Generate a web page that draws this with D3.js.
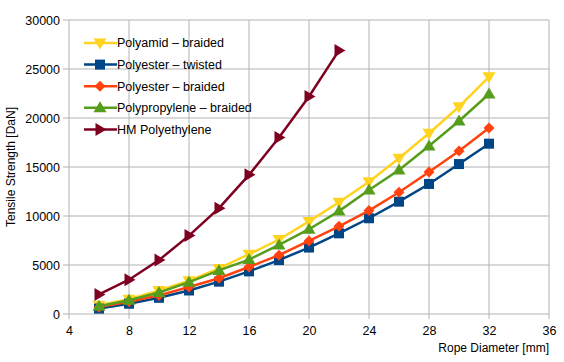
<!DOCTYPE html>
<html>
<head>
<meta charset="utf-8">
<script src="https://cdn.jsdelivr.net/npm/d3@7"></script>
<style>
  body { margin: 0; background: #fff; }
  svg text { font-family: "Liberation Sans", Arial, sans-serif; font-size: 12px; fill: #000; }
</style>
</head>
<body>
<div id="chart"></div>
<script>
// rope diameters [mm]
const diameters = [6, 8, 10, 12, 14, 16, 18, 20, 22, 24, 26, 28, 30, 32]
const hmDiameters = [6, 8, 10, 12, 14, 16, 18, 20, 22]

// tensile strength [DaN]
const polyamidBraided = [900, 1500, 2400, 3400, 4650, 6100, 7600, 9450, 11400, 13500, 15900, 18450, 21150, 24200]
const polyesterTwisted = [550, 1050, 1650, 2400, 3300, 4350, 5500, 6780, 8230, 9770, 11460, 13270, 15300, 17380]
const polyesterBraided = [700, 1250, 1900, 2750, 3650, 4800, 6000, 7450, 8950, 10550, 12420, 14490, 16630, 18980]
const polypropyleneBraided = [800, 1400, 2200, 3250, 4450, 5550, 7050, 8650, 10500, 12650, 14700, 17150, 19700, 22450]
const hmPolyethylene = [2000, 3500, 5500, 8000, 10800, 14200, 18000, 22200, 26900]

const xTicks = [4, 8, 12, 16, 20, 24, 28, 32, 36]
const yTicks = [0, 5000, 10000, 15000, 20000, 25000, 30000]

const series = [
  {name: "Polyamid \u2013 braided", xs: diameters, ys: polyamidBraided, color: "#ffd320", symbol: "down"},
  {name: "Polyester \u2013 twisted", xs: diameters, ys: polyesterTwisted, color: "#004586", symbol: "square"},
  {name: "Polyester \u2013 braided", xs: diameters, ys: polyesterBraided, color: "#ff420e", symbol: "diamond"},
  {name: "Polypropylene \u2013 braided", xs: diameters, ys: polypropyleneBraided, color: "#579d1c", symbol: "up"},
  {name: "HM Polyethylene", xs: hmDiameters, ys: hmPolyethylene, color: "#7e0021", symbol: "right"}
]

const w = 564, h = 362
const margin = {top: 20, right: 15, bottom: 48, left: 69}
const iw = w - margin.left - margin.right
const ih = h - margin.top - margin.bottom

const svg = d3.select("#chart").append("svg")
  .attr("width", w)
  .attr("height", h)

const g = svg.append("g").attr("transform", "translate(" + margin.left + "," + margin.top + ")")

const xScale = d3.scaleLinear().domain([4, 36]).range([0, iw])
const yScale = d3.scaleLinear().domain([0, 30000]).range([ih, 0])

// grid
g.append("g").selectAll("line").data(xTicks).enter().append("line")
  .attr("x1", d => xScale(d)).attr("x2", d => xScale(d))
  .attr("y1", 0).attr("y2", ih + 5)
  .attr("stroke", "#b3b3b3")
g.append("g").selectAll("line").data(yTicks).enter().append("line")
  .attr("x1", -6).attr("x2", iw)
  .attr("y1", d => yScale(d)).attr("y2", d => yScale(d))
  .attr("stroke", "#b3b3b3")

// axes (labels only, grid draws the ticks)
const xAxis = d3.axisBottom(xScale).tickValues(xTicks).tickSize(0).tickPadding(12).tickFormat(d3.format("d"))
const yAxis = d3.axisLeft(yScale).tickValues(yTicks).tickSize(0).tickPadding(9).tickFormat(d3.format("d"))
g.append("g").attr("transform", "translate(0," + ih + ")").call(xAxis)
  .call(a => a.select(".domain").remove())
g.append("g").call(yAxis)
  .call(a => a.select(".domain").remove())
g.selectAll(".tick text").style("font-size", "12.5px").style("font-family", "'Liberation Sans', Arial, sans-serif")

// axis titles
svg.append("text")
  .attr("text-anchor", "end")
  .attr("x", margin.left + iw)
  .attr("y", 352)
  .text("Rope Diameter [mm]")
svg.append("text")
  .attr("text-anchor", "middle")
  .attr("transform", "translate(15," + (margin.top + ih / 2) + ") rotate(-90)")
  .text("Tensile Strength [DaN]")

// marker shapes
function marker(sel, symbol, color) {
  const s = 5.5
  let p
  if (symbol === "square") p = d3.path(), p.rect(-s + 0.5, -s + 0.5, 2 * s - 1, 2 * s - 1)
  if (symbol === "diamond") p = "M0," + (-s) + "L" + s + ",0L0," + s + "L" + (-s) + ",0Z"
  if (symbol === "down") p = "M" + (-s - 1) + "," + (-s + 1) + "L" + (s + 1) + "," + (-s + 1) + "L0," + (s + 1) + "Z"
  if (symbol === "up") p = "M" + (-s - 1) + "," + (s - 1) + "L" + (s + 1) + "," + (s - 1) + "L0," + (-s - 1) + "Z"
  if (symbol === "right") p = "M" + (-s + 1) + "," + (-s - 1) + "L" + (s + 1) + ",0L" + (-s + 1) + "," + (s + 1) + "Z"
  sel.append("path").attr("d", p.toString()).attr("fill", color)
}

const line = d3.line()
  .x(d => xScale(d[0]))
  .y(d => yScale(d[1]))

series.forEach(function(s) {
  const pts = s.xs.map((x, i) => [x, s.ys[i]])
  g.append("path")
    .datum(pts)
    .attr("d", line)
    .attr("fill", "none")
    .attr("stroke", s.color)
    .attr("stroke-width", 2.5)
  pts.forEach(function(p) {
    const m = g.append("g").attr("transform", "translate(" + xScale(p[0]) + "," + yScale(p[1]) + ")")
    marker(m, s.symbol, s.color)
  })
})

// legend
const legend = svg.append("g").attr("transform", "translate(84,43)")
series.forEach(function(s, i) {
  const row = legend.append("g").attr("transform", "translate(0," + (i * 21.6) + ")")
  row.append("line")
    .attr("x1", 0).attr("x2", 33).attr("y1", 0).attr("y2", 0)
    .attr("stroke", s.color).attr("stroke-width", 2.5)
  const m = row.append("g").attr("transform", "translate(16,0)")
  marker(m, s.symbol, s.color)
  row.append("text")
    .attr("x", 33)
    .attr("y", 0)
    .attr("dy", "0.35em")
    .style("font-size", "12.5px")
    .text(s.name)
})
</script>
</body>
</html>
